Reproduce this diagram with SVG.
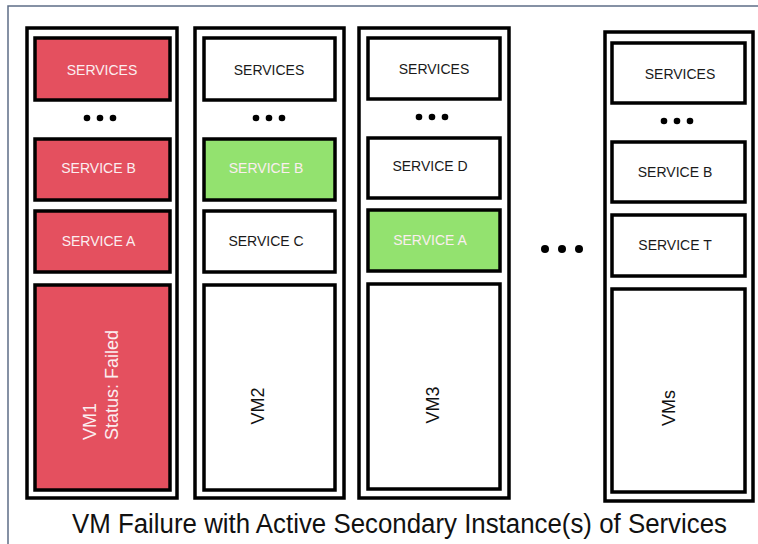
<svg xmlns="http://www.w3.org/2000/svg" width="758" height="544" viewBox="0 0 758 544">
<style>
.frame{fill:none;stroke:#5d6d86;stroke-width:1.5}
.vm{fill:#fff;stroke:#000;stroke-width:3.5}
.box{fill:#fff;stroke:#000;stroke-width:3.5}
.red{fill:#e4505f}
.green{fill:#93e26f}
.lbl{font-family:"Liberation Sans",Arial,sans-serif;font-size:14px;fill:#1a1a1a;text-anchor:middle}
.lt{fill:#fbeef0}
.vmt{font-family:"Liberation Sans",Arial,sans-serif;font-size:18px;fill:#111}
.dot{fill:#000}
.cap{font-family:"Liberation Sans",Arial,sans-serif;font-size:27px;fill:#111;text-anchor:middle}
</style>
<rect width="758" height="544" fill="#fff"/>
<rect class="frame" x="8" y="6" width="760" height="560"/>

<g id="vm1">
<rect class="vm" x="27" y="28" width="150" height="470"/>
<rect class="box red" x="35" y="38" width="135" height="62"/>
<text class="lbl lt" x="102" y="75">SERVICES</text>
<circle class="dot" cx="87" cy="118" r="3.3"/><circle class="dot" cx="100" cy="118" r="3.3"/><circle class="dot" cx="113" cy="118" r="3.3"/>
<rect class="box red" x="35" y="139" width="135" height="61"/>
<text class="lbl lt" x="98.5" y="173">SERVICE B</text>
<rect class="box red" x="35" y="211" width="135" height="61"/>
<text class="lbl lt" x="98.5" y="246">SERVICE A</text>
<rect class="box red" x="35" y="285" width="135" height="205"/>
<text class="vmt" style="fill:#fbeef0" transform="translate(96,440) rotate(-90)"><tspan x="0" y="0">VM1</tspan><tspan x="0" y="21.5">Status: Failed</tspan></text>
</g>

<g id="vm2">
<rect class="vm" x="195" y="28" width="149" height="470"/>
<rect class="box" x="204" y="38" width="131" height="62"/>
<text class="lbl" x="269" y="75">SERVICES</text>
<circle class="dot" cx="256" cy="118" r="3.3"/><circle class="dot" cx="269" cy="118" r="3.3"/><circle class="dot" cx="282" cy="118" r="3.3"/>
<rect class="box green" x="204" y="139" width="131" height="61"/>
<text class="lbl lt" x="266" y="173">SERVICE B</text>
<rect class="box" x="204" y="211" width="131" height="61"/>
<text class="lbl" x="266" y="246">SERVICE C</text>
<rect class="box" x="204" y="285" width="131" height="205"/>
<text class="vmt" text-anchor="middle" transform="translate(263.5,406) rotate(-90)">VM2</text>
</g>

<g id="vm3">
<rect class="vm" x="359" y="28" width="150" height="470"/>
<rect class="box" x="368" y="38" width="132" height="61"/>
<text class="lbl" x="434" y="74">SERVICES</text>
<circle class="dot" cx="419" cy="117" r="3.3"/><circle class="dot" cx="432" cy="117" r="3.3"/><circle class="dot" cx="445" cy="117" r="3.3"/>
<rect class="box" x="368" y="138" width="132" height="60"/>
<text class="lbl" x="430" y="171">SERVICE D</text>
<rect class="box green" x="368" y="210" width="132" height="61"/>
<text class="lbl lt" x="430" y="245">SERVICE A</text>
<rect class="box" x="368" y="284" width="132" height="205"/>
<text class="vmt" text-anchor="middle" transform="translate(438.5,405) rotate(-90)">VM3</text>
</g>

<g id="gap-dots">
<circle class="dot" cx="545" cy="249" r="4"/><circle class="dot" cx="562" cy="249" r="4"/><circle class="dot" cx="579" cy="249" r="4"/>
</g>

<g id="vms">
<rect class="vm" x="605" y="32" width="148" height="469"/>
<rect class="box" x="612" y="43" width="133" height="60"/>
<text class="lbl" x="680" y="79">SERVICES</text>
<circle class="dot" cx="664" cy="121" r="3.3"/><circle class="dot" cx="677" cy="121" r="3.3"/><circle class="dot" cx="690" cy="121" r="3.3"/>
<rect class="box" x="612" y="142" width="133" height="60"/>
<text class="lbl" x="675" y="177">SERVICE B</text>
<rect class="box" x="612" y="215" width="133" height="61"/>
<text class="lbl" x="675" y="250">SERVICE T</text>
<rect class="box" x="612" y="289" width="133" height="203"/>
<text class="vmt" text-anchor="middle" transform="translate(674.5,408) rotate(-90)">VMs</text>
</g>

<g id="connectors"></g>

<text class="cap" x="399.5" y="533" textLength="655" lengthAdjust="spacingAndGlyphs">VM Failure with Active Secondary Instance(s) of Services</text>
</svg>
